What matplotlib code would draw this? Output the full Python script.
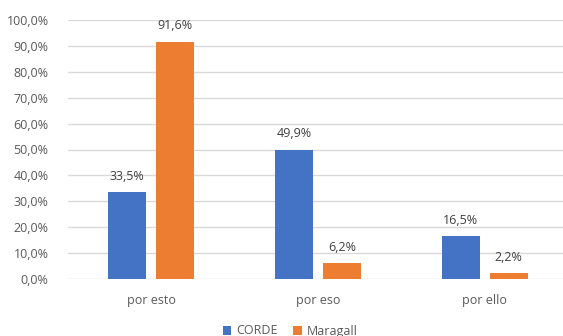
import matplotlib.pyplot as plt
import numpy as np

categories = ['por esto', 'por eso', 'por ello']
corde = [33.5, 49.9, 16.5]
maragall = [91.6, 6.2, 2.2]
series_names = ['CORDE', 'Maragall']
colors = ['#4472C4', '#ED7D31']

plt.rcParams['font.family'] = ['Open Sans', 'DejaVu Sans']
text_color = '#595959'

fig = plt.figure(figsize=(5.63, 3.36), dpi=100)
ax = fig.add_axes([68 / 563, 57 / 336, 500 / 563, 259 / 336])

x = np.arange(len(categories))
w = 0.228
off = 0.144
bars = []
for vals, name, c, sgn in zip([corde, maragall], series_names, colors, [-1, 1]):
    b = ax.bar(x + sgn * off, vals, w, color=c, label=name, zorder=3)
    bars.append(b)
    for xi, v in zip(x, vals):
        ax.text(xi + sgn * off, v + 3.6, f'{v:.1f}%'.replace('.', ','),
                ha='center', va='bottom', fontsize=9, color='#404040')

ax.set_xlim(-0.5, 2.5)
ax.set_ylim(0, 100)
ax.set_yticks(np.arange(0, 101, 10))
ax.set_yticklabels([f'{v:.1f}%'.replace('.', ',') for v in np.arange(0, 101, 10)])
ax.set_xticks(x)
ax.set_xticklabels(categories)
ax.grid(axis='y', color='#d9d9d9', linewidth=1, zorder=0)
for s in ax.spines.values():
    s.set_visible(False)
ax.tick_params(axis='both', length=0, labelsize=9, colors=text_color)
ax.tick_params(axis='x', pad=11)
ax.tick_params(axis='y', pad=14)

fig.legend(handles=bars, labels=series_names, loc='center', bbox_to_anchor=(290 / 563, 1 - 331 / 336),
           ncol=2, frameon=False, fontsize=9, handlelength=0.7, handleheight=0.7,
           handletextpad=0.4, columnspacing=1.2, labelcolor=text_color)

fig.savefig('out.png', dpi=100)
